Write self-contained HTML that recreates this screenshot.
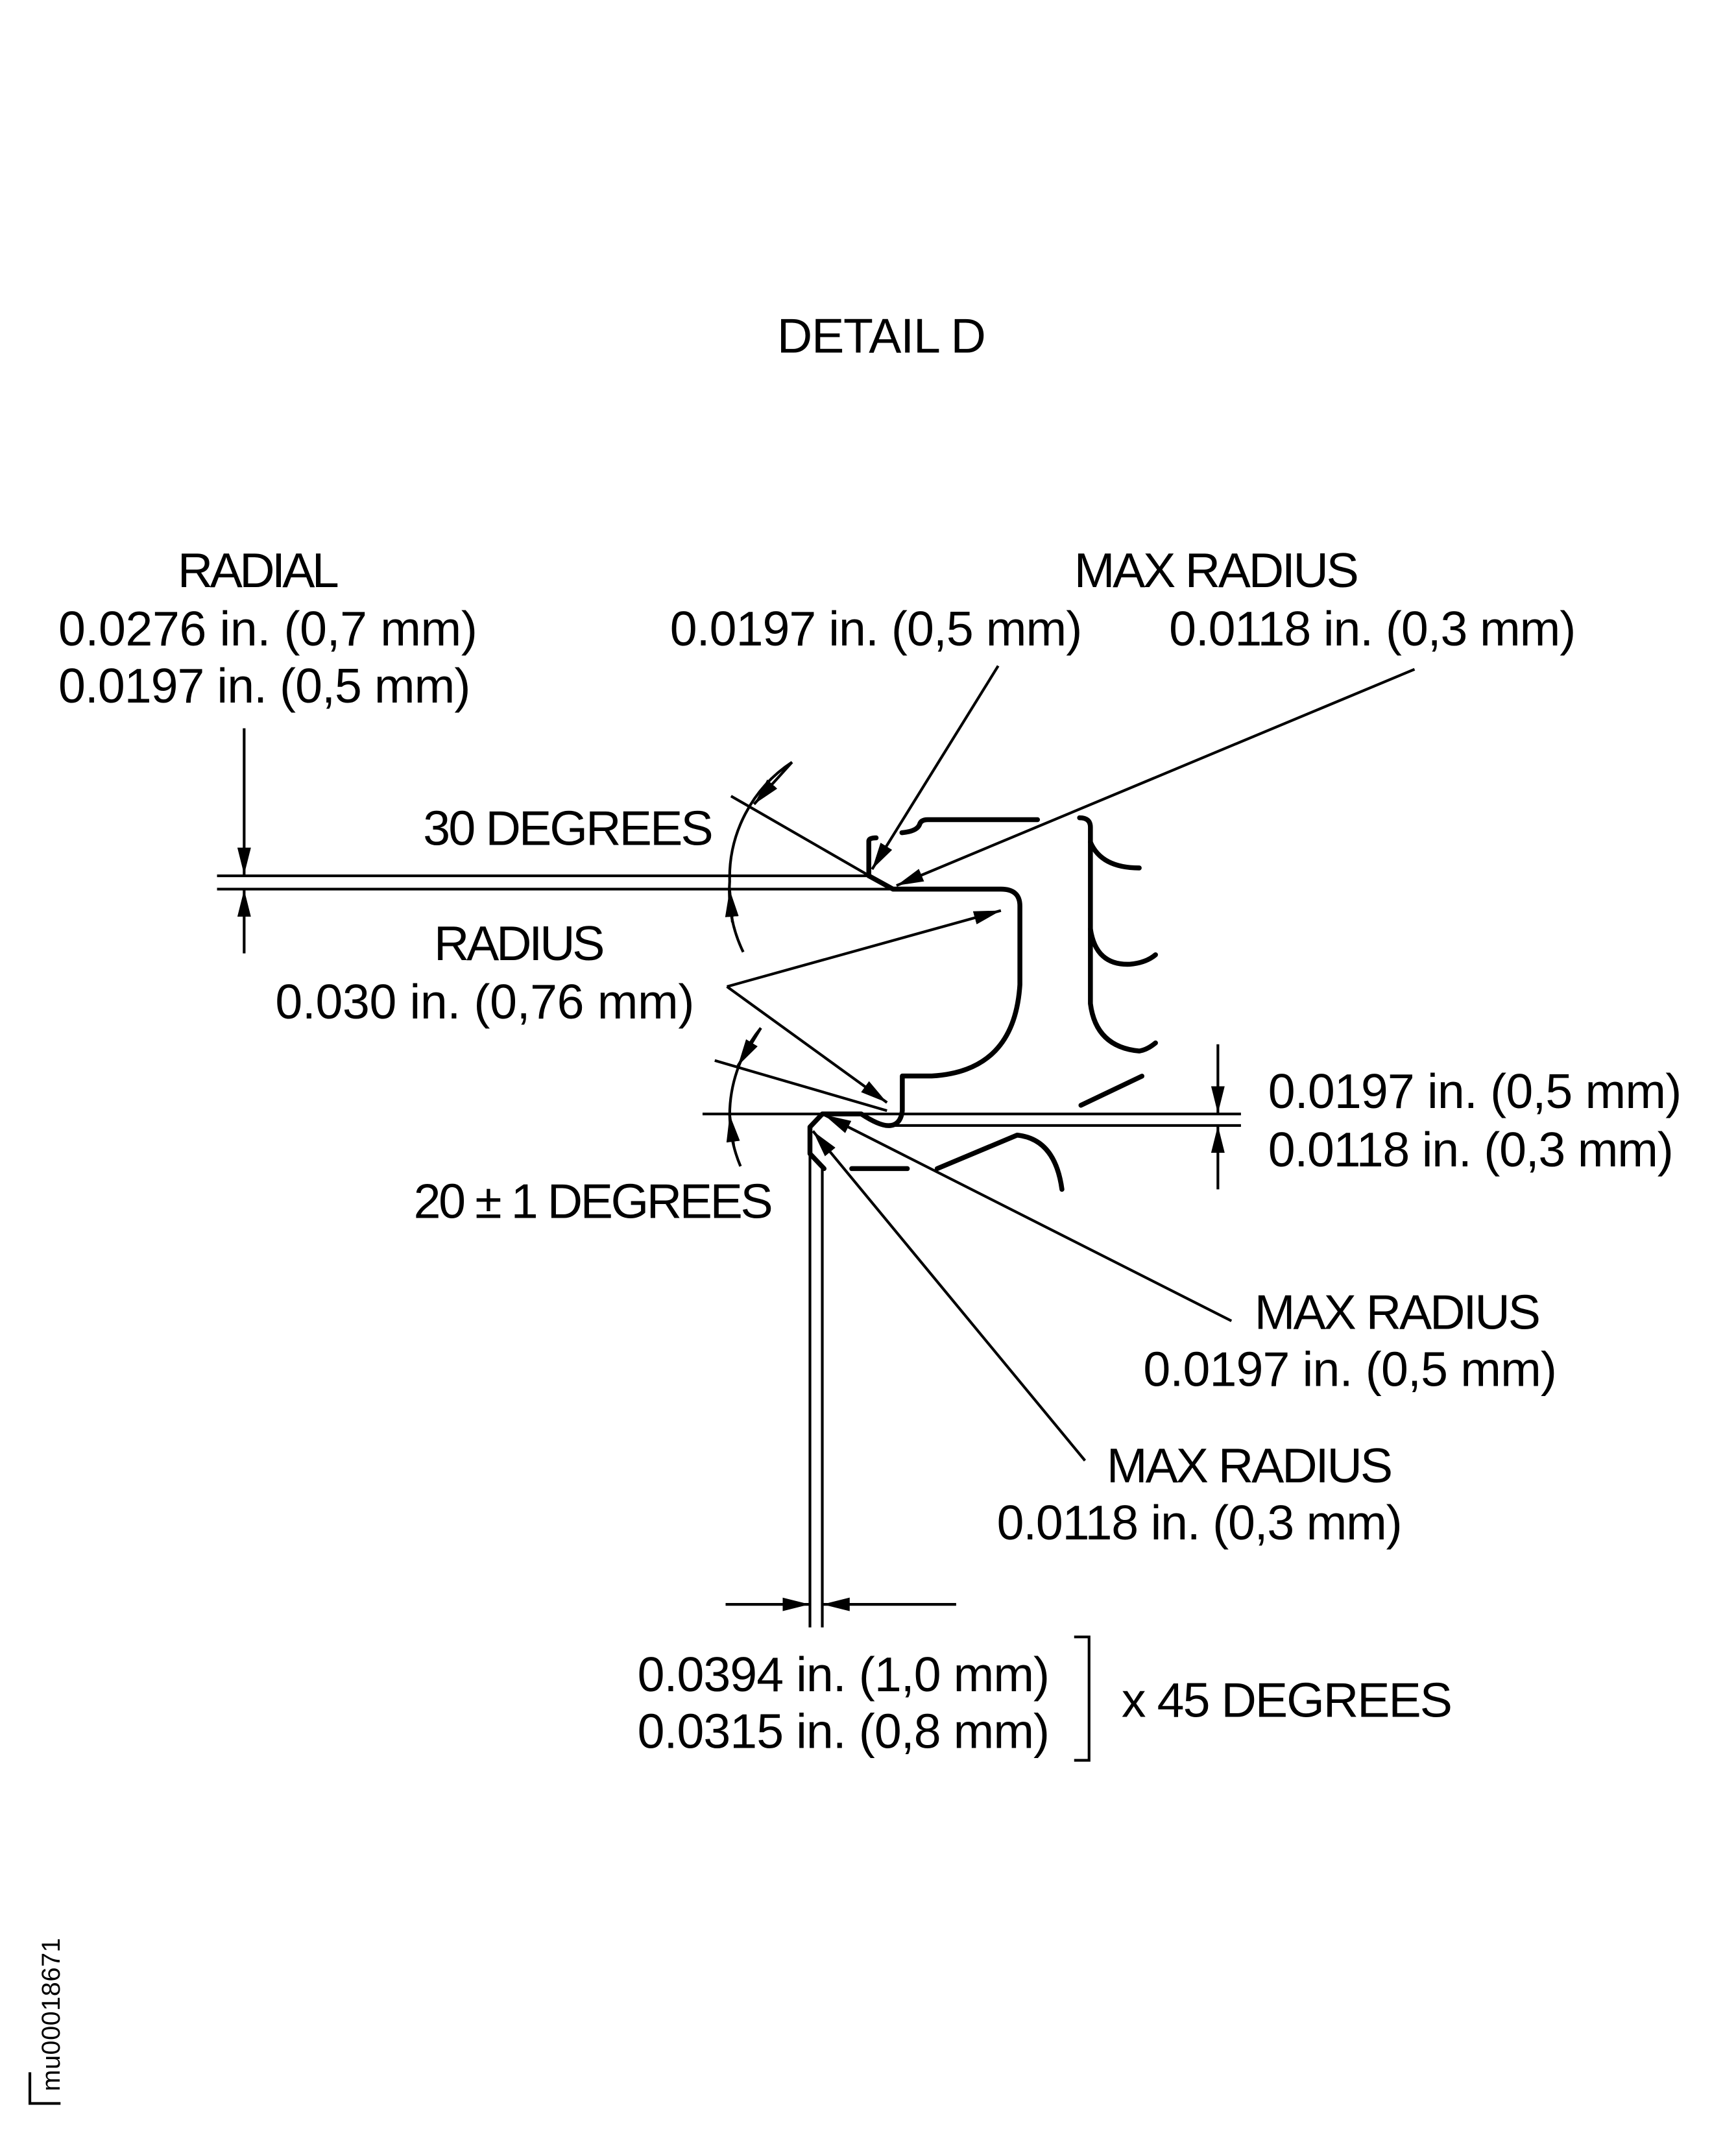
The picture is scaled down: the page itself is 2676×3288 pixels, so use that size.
<!DOCTYPE html>
<html><head><meta charset="utf-8"><style>
html,body{margin:0;padding:0;background:#fff;}
svg{display:block;}
text{font-family:"Liberation Sans",Arial,sans-serif;font-size:36px;fill:#000;}
</style></head><body>
<svg width="2676" height="3288" viewBox="0 0 1280 1572.8" xmlns="http://www.w3.org/2000/svg">
<defs>
<marker id="a" viewBox="0 0 20 10" refX="20" refY="5" markerWidth="20" markerHeight="10" markerUnits="userSpaceOnUse" orient="auto"><path d="M0,0 L20,5 L0,10 z" fill="#000"/></marker>
</defs>
<g fill="none" stroke="#000" stroke-width="2">
<line x1="160" y1="645.8" x2="641" y2="645.8"/>
<line x1="160" y1="655.6" x2="658" y2="655.6"/>
<line x1="518" y1="821.4" x2="915" y2="821.4"/>
<line x1="660" y1="829.9" x2="915" y2="829.9"/>
<line x1="606.3" y1="862" x2="606.3" y2="1200"/>
<line x1="597.2" y1="850" x2="597.2" y2="1200"/>
<line x1="180" y1="537" x2="180" y2="645" marker-end="url(#a)"/>
<line x1="180" y1="703" x2="180" y2="656" marker-end="url(#a)"/>
<line x1="898" y1="770" x2="898" y2="821" marker-end="url(#a)"/>
<line x1="898" y1="877" x2="898" y2="830" marker-end="url(#a)"/>
<line x1="535" y1="1183" x2="597" y2="1183" marker-end="url(#a)"/>
<line x1="705" y1="1183" x2="606.5" y2="1183" marker-end="url(#a)"/>
<line x1="539" y1="587" x2="641" y2="645.8"/>
<path d="M584,562 A102,102 0 0 0 538,650 A102,102 0 0 0 548,702" />
<line x1="584" y1="562" x2="556" y2="593" marker-end="url(#a)"/>
<line x1="540" y1="680" x2="538" y2="656" marker-end="url(#a)"/>
<line x1="527" y1="782" x2="654" y2="819"/>
<path d="M561,758 A102,102 0 0 0 538,822 A102,102 0 0 0 546,860"/>
<line x1="561" y1="758" x2="544" y2="786" marker-end="url(#a)"/>
<line x1="541" y1="845" x2="538" y2="822" marker-end="url(#a)"/>
<line x1="536" y1="727.5" x2="738" y2="671.4" marker-end="url(#a)"/>
<line x1="536" y1="727.5" x2="654" y2="813" marker-end="url(#a)"/>
<line x1="736" y1="491" x2="643" y2="641" marker-end="url(#a)"/>
<line x1="1043" y1="493.5" x2="661" y2="653" marker-end="url(#a)"/>
<line x1="908" y1="974" x2="607.6" y2="822" marker-end="url(#a)"/>
<line x1="800" y1="1077" x2="599.4" y2="834" marker-end="url(#a)"/>
<path d="M792,1207 H803 V1298 H792"/>
<path d="M22,1528 V1551 H44.6" stroke-width="2"/>
</g>
<g fill="none" stroke="#000" stroke-width="3.6" stroke-linecap="round" stroke-linejoin="round">
<path d="M640.6,645.8 L658.4,655.6 H738 Q752,655.6 752,668 V726 Q748,790 687,793.4 H665.3 V819 Q664,830 655,830 Q648,830 635,821.4 H606.3 L597.2,831 V850.7 L607.6,861.7"/>
<path d="M640.6,645.8 V620 Q641,617.8 646,617.8"/>
<path d="M665,614 Q676,613 678,608 Q679,604.4 684,604.4 H765"/>
<path d="M796,603 Q804,603 804,610 V740 Q808,772 840,775 Q846,774 852,769"/>
<path d="M804,621 Q812,640 840,640"/>
<path d="M804,685 Q808,712 833,711 Q845,710 852,704"/>
<line x1="797" y1="815" x2="842" y2="793.5"/>
<line x1="628" y1="861.7" x2="669" y2="861.7"/>
<path d="M691,861.7 L750,837 Q778,840 783,877"/>
</g>
<g transform="translate(0,2)">
<text x="573" y="258" textLength="154">DETAIL D</text>
<text x="131" y="431" textLength="119">RADIAL</text>
<text x="43" y="474" textLength="309">0.0276 in. (0,7 mm)</text>
<text x="43" y="516" textLength="304">0.0197 in. (0,5 mm)</text>
<text x="792" y="431" textLength="210">MAX RADIUS</text>
<text x="494" y="474" textLength="304">0.0197 in. (0,5 mm)</text>
<text x="862" y="474" textLength="300">0.0118 in. (0,3 mm)</text>
<text x="312" y="621" textLength="214">30 DEGREES</text>
<text x="320" y="706" textLength="126">RADIUS</text>
<text x="203" y="749" textLength="309">0.030 in. (0,76 mm)</text>
<text x="935" y="815" textLength="305">0.0197 in. (0,5 mm)</text>
<text x="935" y="858" textLength="299">0.0118 in. (0,3 mm)</text>
<text x="305" y="896" textLength="265">20 ± 1 DEGREES</text>
<text x="925" y="978" textLength="211">MAX RADIUS</text>
<text x="843" y="1020" textLength="305">0.0197 in. (0,5 mm)</text>
<text x="816" y="1091" textLength="211">MAX RADIUS</text>
<text x="735" y="1133" textLength="299">0.0118 in. (0,3 mm)</text>
<text x="470" y="1245" textLength="304">0.0394 in. (1,0 mm)</text>
<text x="470" y="1287" textLength="304">0.0315 in. (0,8 mm)</text>
<text x="827" y="1264" textLength="244">x 45 DEGREES</text>
</g>
<text transform="translate(44,1542) rotate(-90)" x="0" y="0" style="font-size:19px" textLength="113">mu00018671</text>
</svg>
</body></html>
